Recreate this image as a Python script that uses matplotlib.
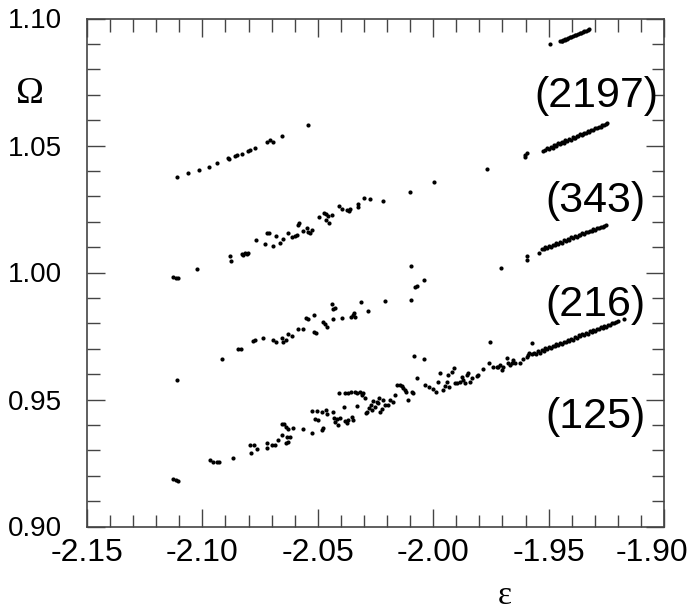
import matplotlib
matplotlib.use("Agg")
import matplotlib.pyplot as plt
from matplotlib.ticker import MultipleLocator
from matplotlib.transforms import ScaledTranslation

# (2197) dar serit
eps_2197 = [-1.9495, -1.9450, -1.9443, -1.9436, -1.9429, -1.9422, -1.9415, -1.9408, -1.9401,
            -1.9394, -1.9387, -1.9380, -1.9373, -1.9366, -1.9359, -1.9352, -1.9345, -1.9338,
            -1.9331, -1.9323, -1.9440, -1.9428]
om_2197 = [1.0900, 1.0911, 1.0913, 1.0916, 1.0918, 1.0921, 1.0924, 1.0926, 1.0929,
           1.0931, 1.0934, 1.0936, 1.0939, 1.0941, 1.0944, 1.0946, 1.0949, 1.0951,
           1.0954, 1.0957, 1.0910, 1.0915]

# (343) sag kume + sol seyrek kol
eps_343 = [-1.9602, -1.9595, -1.9601,
           -1.9523, -1.9515, -1.9507, -1.9499, -1.9491, -1.9483, -1.9475, -1.9467, -1.9459,
           -1.9451, -1.9443, -1.9435, -1.9427, -1.9419, -1.9411, -1.9403, -1.9395, -1.9387,
           -1.9379, -1.9371, -1.9363, -1.9355, -1.9347, -1.9339, -1.9331, -1.9323, -1.9315,
           -1.9307, -1.9299, -1.9291, -1.9283, -1.9275, -1.9267, -1.9259, -1.9251, -1.9246,
           -1.9470, -1.9445, -1.9430, -1.9390, -1.9350]
om_343 = [1.0456, 1.0469, 1.0463,
          1.0480, 1.0481, 1.0489, 1.0486, 1.0495, 1.0492, 1.0503, 1.0499, 1.0509,
          1.0504, 1.0515, 1.0510, 1.0521, 1.0516, 1.0527, 1.0522, 1.0532, 1.0528,
          1.0539, 1.0536, 1.0545, 1.0542, 1.0551, 1.0548, 1.0556, 1.0554, 1.0562,
          1.0561, 1.0568, 1.0567, 1.0574, 1.0574, 1.0580, 1.0581, 1.0585, 1.0587,
          1.0501, 1.0508, 1.0519, 1.0530, 1.0547]

eps_a = [-2.1109, -2.1062, -2.1016, -2.0973, -2.0937, -2.0888, -2.0884, -2.0860, -2.0848,
         -2.0829, -2.0802, -2.0792, -2.0770, -2.0722, -2.0708, -2.0696, -2.0654, -2.0541,
         -2.0101, -1.9998, -1.9766]
om_a = [1.0375, 1.0391, 1.0404, 1.0417, 1.0430, 1.0450, 1.0446, 1.0459, 1.0461,
        1.0468, 1.0479, 1.0482, 1.0492, 1.0512, 1.0520, 1.0514, 1.0539, 1.0579,
        1.0317, 1.0355, 1.0406]

# (216) sag kume + sol kol
eps_216 = [-1.9593, -1.9593, -1.9542,
           -1.9530, -1.9522, -1.9514, -1.9506, -1.9498, -1.9490, -1.9482, -1.9474, -1.9466,
           -1.9458, -1.9450, -1.9442, -1.9434, -1.9426, -1.9418, -1.9410, -1.9402, -1.9394,
           -1.9386, -1.9378, -1.9370, -1.9362, -1.9354, -1.9346, -1.9338, -1.9330, -1.9322,
           -1.9314, -1.9306, -1.9298, -1.9290, -1.9282, -1.9274, -1.9266, -1.9258, -1.9251]
om_216 = [1.0064, 1.0051, 1.0078,
          1.0091, 1.0092, 1.0099, 1.0096, 1.0105, 1.0102, 1.0110, 1.0107, 1.0116,
          1.0113, 1.0122, 1.0118, 1.0127, 1.0124, 1.0133, 1.0129, 1.0138, 1.0135,
          1.0144, 1.0140, 1.0149, 1.0146, 1.0154, 1.0152, 1.0159, 1.0158, 1.0165,
          1.0163, 1.0170, 1.0169, 1.0175, 1.0175, 1.0180, 1.0181, 1.0185, 1.0187]

eps_b = [-2.1126, -2.1115, -2.1107, -2.1022, -2.0880, -2.0876,
         -2.0830, -2.0823, -2.0815, -2.0808, -2.0801,
         -2.0768, -2.0729, -2.0719, -2.0710, -2.0695, -2.0681, -2.0664, -2.0649, -2.0630,
         -2.0613, -2.0599, -2.0589, -2.0584, -2.0580, -2.0566,
         -2.0548, -2.0541, -2.0534, -2.0526,
         -2.0494, -2.0472, -2.0464, -2.0454, -2.0440, -2.0466, -2.0451,
         -2.0408, -2.0397, -2.0375, -2.0363, -2.0360,
         -2.0327, -2.0327, -2.0300, -2.0274, -2.0219,
         -2.0096, -1.9706]
om_b = [0.9981, 0.9977, 0.9977, 1.0013, 1.0065, 1.0044,
        1.0073, 1.0069, 1.0078, 1.0073, 1.0076,
        1.0128, 1.0112, 1.0154, 1.0157, 1.0104, 1.0145, 1.0115, 1.0132, 1.0157,
        1.0141, 1.0144, 1.0148, 1.0187, 1.0196, 1.0165,
        1.0174, 1.0161, 1.0157, 1.0167,
        1.0217, 1.0233, 1.0230, 1.0222, 1.0226, 1.0207, 1.0196,
        1.0262, 1.0249, 1.0246, 1.0242, 1.0250,
        1.0270, 1.0259, 1.0294, 1.0289, 1.0283,
        1.0026, 1.0019]

eps_c = [-2.1109, -2.0915, -2.0845, -2.0834,
         -2.0779, -2.0772, -2.0736, -2.0693, -2.0681, -2.0656, -2.0649, -2.0638, -2.0630,
         -2.0613, -2.0587, -2.0563, -2.0551, -2.0541, -2.0515, -2.0516, -2.0508,
         -2.0476, -2.0469, -2.0461, -2.0440, -2.0433, -2.0425, -2.0435, -2.0397,
         -2.0358, -2.0349, -2.0342, -2.0339,
         -2.0314, -2.0283, -2.0211, -2.0098, -2.0078, -2.0069, -2.0042,
         -1.9753, -1.9573]
om_c = [0.9577, 0.9659, 0.9699, 0.9700,
        0.9731, 0.9734, 0.9741, 0.9734, 0.9728, 0.9741, 0.9728, 0.9734, 0.9758,
        0.9751, 0.9778, 0.9776, 0.9820, 0.9816, 0.9833, 0.9767, 0.9761,
        0.9806, 0.9797, 0.9784, 0.9876, 0.9855, 0.9859, 0.9816, 0.9820,
        0.9826, 0.9833, 0.9839, 0.9824,
        0.9882, 0.9847, 0.9888, 0.9891, 0.9943, 0.9946, 0.9970,
        0.9726, 0.9721]

# (125) alt serit
eps_125 = [-2.1126, -2.1115, -2.1107,
           -2.0967, -2.0953, -2.0935, -2.0927, -2.0866,
           -2.0794, -2.0775, -2.0762, -2.0789,
           -2.0721, -2.0719, -2.0700, -2.0685, -2.0674,
           -2.0656, -2.0646, -2.0638, -2.0628, -2.0609,
           -2.0656, -2.0635, -2.0620, -2.0628, -2.0638,
           -2.0563, -2.0524,
           -2.0527, -2.0505, -2.0483, -2.0466, -2.0462,
           -2.0512, -2.0498, -2.0476, -2.0481,
           -2.0433, -2.0430, -2.0425, -2.0418, -2.0411, -2.0404, -2.0386, -2.0382, -2.0375,
           -2.0368, -2.0353, -2.0346, -2.0332,
           -2.0407, -2.0382, -2.0368, -2.0358, -2.0339, -2.0329, -2.0317, -2.0310, -2.0303,
           -2.0295, -2.0291, -2.0285, -2.0277, -2.0271, -2.0267, -2.0259, -2.0252, -2.0245,
           -2.0238, -2.0233, -2.0230, -2.0223, -2.0216, -2.0209, -2.0194, -2.0187, -2.0173,
           -2.0165, -2.0158, -2.0144, -2.0137, -2.0129, -2.0122, -2.0118, -2.0108, -2.0093,
           -2.0086, -2.0083, -2.0069, -2.0040, -2.0036, -2.0017, -2.0000, -1.9988, -1.9978,
           -1.9971, -1.9956, -1.9949, -1.9942, -1.9934, -1.9930, -1.9920, -1.9910, -1.9906,
           -1.9898, -1.9884, -1.9877, -1.9869, -1.9862, -1.9855, -1.9848, -1.9841, -1.9833,
           -1.9812, -1.9805, -1.9783, -1.9757, -1.9739, -1.9725, -1.9718, -1.9711, -1.9703,
           -1.9696, -1.9682, -1.9674, -1.9667, -1.9660, -1.9655, -1.9646, -1.9624, -1.9610,
           -1.9595, -1.9588, -1.9583,
           -1.9570, -1.9562, -1.9554, -1.9546, -1.9538, -1.9530, -1.9522, -1.9514, -1.9506,
           -1.9498, -1.9490, -1.9482, -1.9474, -1.9466, -1.9458, -1.9450, -1.9442, -1.9434,
           -1.9426, -1.9418, -1.9410, -1.9402, -1.9394, -1.9386, -1.9378, -1.9370, -1.9362,
           -1.9354, -1.9346, -1.9338, -1.9330, -1.9322, -1.9314, -1.9306, -1.9298, -1.9290,
           -1.9282, -1.9274, -1.9266, -1.9258, -1.9250, -1.9242, -1.9234, -1.9226, -1.9218,
           -1.9210, -1.9200, -1.9173]
om_125 = [0.9187, 0.9184, 0.9180,
          0.9262, 0.9252, 0.9252, 0.9252, 0.9268,
          0.9321, 0.9322, 0.9304, 0.9291,
          0.9330, 0.9310, 0.9320, 0.9321, 0.9341,
          0.9402, 0.9402, 0.9393, 0.9383, 0.9389,
          0.9360, 0.9351, 0.9354, 0.9334, 0.9330,
          0.9384, 0.9367,
          0.9456, 0.9456, 0.9452, 0.9459, 0.9442,
          0.9422, 0.9419, 0.9389, 0.9380,
          0.9452, 0.9426, 0.9413, 0.9422, 0.9400, 0.9426, 0.9469, 0.9417, 0.9406,
          0.9419, 0.9430, 0.9419, 0.9474,
          0.9524, 0.9527, 0.9527, 0.9530, 0.9531, 0.9524, 0.9531, 0.9518, 0.9527,
          0.9505, 0.9446, 0.9452, 0.9465, 0.9478, 0.9459, 0.9495, 0.9472, 0.9491,
          0.9485, 0.9505, 0.9452, 0.9461, 0.9498, 0.9478, 0.9478, 0.9498, 0.9491,
          0.9518, 0.9557, 0.9557, 0.9553, 0.9544, 0.9537, 0.9531, 0.9498, 0.9531,
          0.9524, 0.9671, 0.9583, 0.9658, 0.9557, 0.9548, 0.9540, 0.9531, 0.9570,
          0.9603, 0.9537, 0.9553, 0.9570, 0.9596, 0.9551, 0.9610, 0.9623, 0.9564,
          0.9566, 0.9570, 0.9590, 0.9577, 0.9564, 0.9596, 0.9603, 0.9570, 0.9583,
          0.9593, 0.9596, 0.9619, 0.9642, 0.9629, 0.9629, 0.9627, 0.9636, 0.9616,
          0.9629, 0.9662, 0.9642, 0.9636, 0.9645, 0.9656, 0.9642, 0.9645, 0.9658,
          0.9669, 0.9675, 0.9684,
          0.9678, 0.9685, 0.9680, 0.9689, 0.9685, 0.9694, 0.9692, 0.9701, 0.9698,
          0.9706, 0.9702, 0.9711, 0.9709, 0.9718, 0.9715, 0.9723, 0.9719, 0.9728,
          0.9725, 0.9735, 0.9732, 0.9740, 0.9736, 0.9745, 0.9742, 0.9752, 0.9749,
          0.9757, 0.9753, 0.9762, 0.9759, 0.9769, 0.9766, 0.9774, 0.9770, 0.9779,
          0.9776, 0.9786, 0.9783, 0.9791, 0.9787, 0.9795, 0.9793, 0.9802, 0.9800,
          0.9807, 0.9808, 0.9816]

etiketler = ["(2197)", "(343)", "(216)", "(125)"]
etiket_y = [1.0695, 1.0282, 0.9872, 0.9430]

x_ticks = [-2.15, -2.10, -2.05, -2.00, -1.95, -1.90]
x_tick_labels = ["-2.15", "-2.10", "-2.05", "-2.00", "-1.95", "-1.90"]
y_ticks = [0.90, 0.95, 1.00, 1.05, 1.10]
y_tick_labels = ["0.90", "0.95", "1.00", "1.05", "1.10"]

plt.rcParams['font.family'] = ['Liberation Sans', 'DejaVu Sans']

fig = plt.figure(figsize=(6.92, 6.11), dpi=100)
ax = fig.add_axes([87/692, 1 - 526.5/611, 577/692, 508/611])

for xs, ys in [(eps_2197, om_2197), (eps_343, om_343), (eps_a, om_a), (eps_216, om_216),
               (eps_b, om_b), (eps_c, om_c), (eps_125, om_125)]:
    ax.scatter(xs, ys, s=9, c='black', linewidths=0)

ax.set_xlim(-2.15, -1.90)
ax.set_ylim(0.90, 1.10)
ax.set_xticks(x_ticks, labels=x_tick_labels)
ax.set_yticks(y_ticks, labels=y_tick_labels)
ax.xaxis.set_minor_locator(MultipleLocator(0.01))
ax.yaxis.set_minor_locator(MultipleLocator(0.01))

ax.tick_params(which='both', direction='in', top=True, right=True, width=1.0, color='#444444')
ax.tick_params(which='major', length=13)
ax.tick_params(which='minor', length=9)
ax.tick_params(axis='x', which='major', labelsize=23, pad=8)
ax.tick_params(axis='y', which='major', labelsize=20, pad=18)
for sp in ax.spines.values():
    sp.set_linewidth(1.2)
    sp.set_color('#444444')

# son etiket kenardan tasmasin diye biraz sola
son = ax.get_xticklabels()[-1]
son.set_transform(son.get_transform() + ScaledTranslation(-0.12, 0, fig.dpi_scale_trans))

for lab, yy in zip(etiketler, etiket_y):
    ax.text(-1.9295, yy, lab, ha='center', va='center', fontsize=31)

fig.text(30/692, 1 - 94/611, "Ω", ha='center', va='center', fontsize=27, family=['Liberation Serif', 'DejaVu Serif'])
fig.text(505/692, 1 - 596/611, "ε", ha='center', va='center', fontsize=24, family=['Liberation Serif', 'DejaVu Serif'])

fig.savefig("out.png", dpi=100)
